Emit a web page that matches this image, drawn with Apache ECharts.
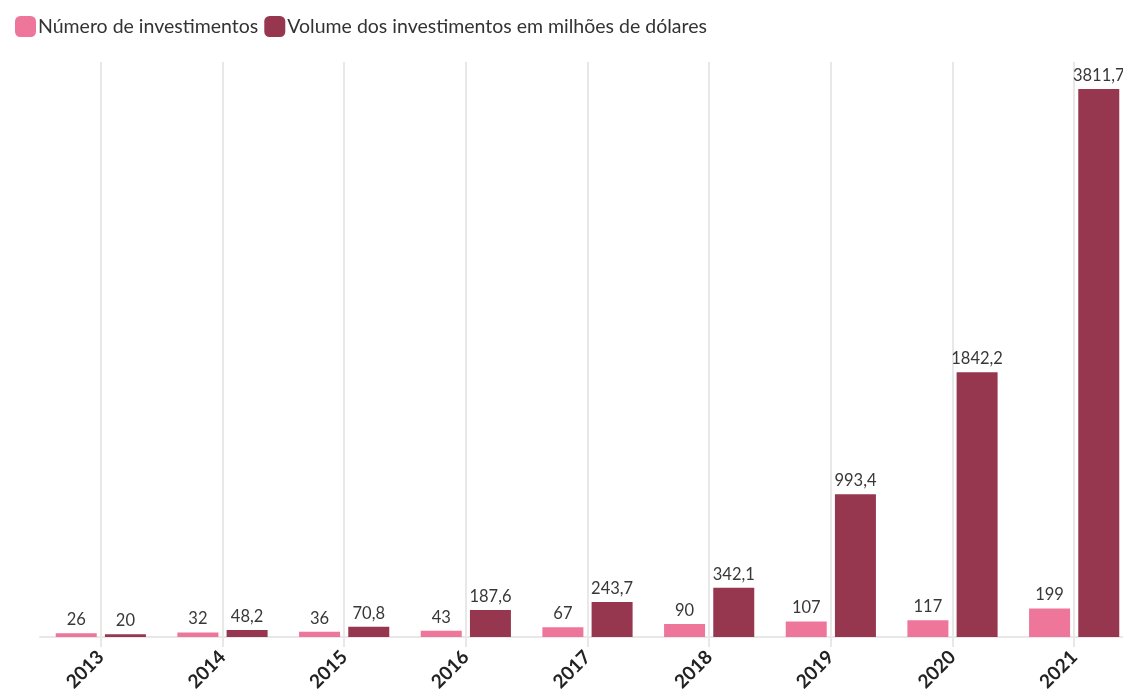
<!DOCTYPE html>
<html>
<head>
<meta charset="utf-8">
<script src="https://cdn.jsdelivr.net/npm/echarts@6/dist/echarts.min.js"></script>
<style>
  html, body { margin: 0; padding: 0; background: #fff; }
  #main { width: 1123px; height: 691px; }
</style>
</head>
<body>
<div id="main"></div>
<script>
var years = ["2013", "2014", "2015", "2016", "2017", "2018", "2019", "2020", "2021"];
var numeroInvestimentos = [26, 32, 36, 43, 67, 90, 107, 117, 199];
var volumeInvestimentos = [20, 48.2, 70.8, 187.6, 243.7, 342.1, 993.4, 1842.2, 3811.7];

var fontFamily = "Lato, 'Noto Sans', sans-serif";

function fmt(p) {
  return String(p.value).replace(".", ",");
}

var chart = echarts.init(document.getElementById("main"), null, { renderer: "canvas" });

var option = {
  animation: false,
  textStyle: { fontFamily: fontFamily },
  legend: {
    left: 10,
    top: 11,
    itemWidth: 21,
    itemHeight: 21,
    itemGap: 6,
    icon: "roundRect",
    textStyle: { fontSize: 19.5, color: "#333", padding: [0, 0, 0, -3] },
    data: ["Número de investimentos", "Volume dos investimentos em milhões de dólares"]
  },
  grid: {
    left: 40,
    width: 1095,
    top: 62,
    bottom: 54,
    containLabel: false,
    outerBoundsMode: "none"
  },
  xAxis: {
    type: "category",
    data: years,
    axisLine: { lineStyle: { color: "#e8e8e8", width: 2 } },
    axisTick: { show: true, alignWithLabel: true, length: 10, lineStyle: { color: "#e8e8e8", width: 2 } },
    splitLine: { show: true, alignWithLabel: true, lineStyle: { color: "#e8e8e8", width: 2 } },
    axisLabel: {
      rotate: 45,
      margin: 17,
      fontSize: 19,
      fontWeight: "bold",
      color: "#222"
    }
  },
  yAxis: {
    type: "value",
    min: 0,
    max: 4000,
    show: false,
    splitLine: { show: false }
  },
  series: [
    {
      name: "Número de investimentos",
      type: "bar",
      data: numeroInvestimentos,
      barWidth: 41,
      barGap: "20%",
      itemStyle: { color: "#ee769b" },
      label: {
        show: true,
        position: "top",
        distance: 5,
        fontSize: 16.5,
        color: "#383838",
        formatter: fmt
      }
    },
    {
      name: "Volume dos investimentos em milhões de dólares",
      type: "bar",
      data: volumeInvestimentos,
      barWidth: 41,
      itemStyle: { color: "#97364f" },
      label: {
        show: true,
        position: "top",
        distance: 5,
        fontSize: 16.5,
        color: "#383838",
        formatter: fmt
      }
    }
  ]
};

chart.setOption(option);
</script>
</body>
</html>
